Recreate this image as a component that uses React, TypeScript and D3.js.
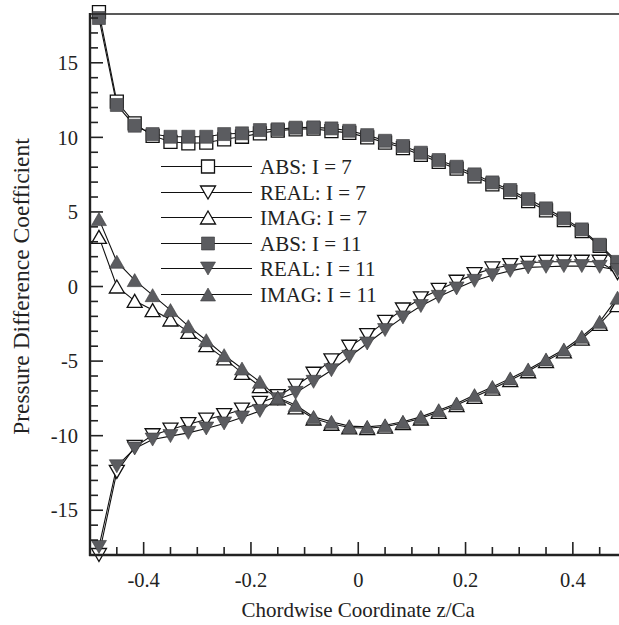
import * as d3 from 'd3';

// chordwise stations (panel midpoints)
const zCoord = [-0.4833, -0.45, -0.4167, -0.3833, -0.35, -0.3167, -0.2833, -0.25, -0.2167, -0.1833,
    -0.15, -0.1167, -0.0833, -0.05, -0.0167, 0.0167, 0.05, 0.0833, 0.1167, 0.15,
    0.1833, 0.2167, 0.25, 0.2833, 0.3167, 0.35, 0.3833, 0.4167, 0.45, 0.4833];

const absI7 = [18.4, 12.4, 10.94, 10.1, 9.7, 9.6, 9.64, 9.87, 10.04, 10.27,
    10.45, 10.54, 10.58, 10.42, 10.3, 10.0, 9.65, 9.28, 8.82, 8.35,
    7.9, 7.38, 6.85, 6.33, 5.72, 5.1, 4.45, 3.72, 2.72, 1.5];
const realI7 = [-18.0, -12.43, -10.75, -9.97, -9.59, -9.23, -8.92, -8.62, -8.25, -7.8,
    -7.35, -6.65, -5.85, -4.95, -4.04, -3.26, -2.37, -1.54, -0.8, -0.22,
    0.32, 0.83, 1.21, 1.44, 1.59, 1.66, 1.66, 1.66, 1.66, 0.9];
const imagI7 = [3.33, 0.0, -0.96, -1.58, -2.21, -3.04, -3.93, -4.82, -5.79, -6.68,
    -7.5, -8.1, -8.85, -9.2, -9.45, -9.5, -9.4, -9.15, -8.85, -8.4,
    -7.95, -7.4, -6.85, -6.28, -5.68, -5.0, -4.35, -3.5, -2.5, -1.25];
const absI11 = [18.0, 12.17, 10.78, 10.22, 10.04, 10.04, 10.04, 10.22, 10.27, 10.49,
    10.54, 10.65, 10.67, 10.6, 10.44, 10.15, 9.77, 9.42, 8.97, 8.48,
    8.03, 7.52, 6.98, 6.47, 5.86, 5.24, 4.57, 3.83, 2.8, 1.65];
const realI11 = [-17.46, -12.05, -10.86, -10.26, -10.03, -9.81, -9.52, -9.18, -8.78, -8.34,
    -7.55, -7.13, -6.39, -5.61, -4.71, -3.82, -2.92, -2.07, -1.31, -0.69,
    -0.13, 0.38, 0.76, 1.05, 1.28, 1.32, 1.37, 1.37, 1.32, 1.1];
const imagI11 = [4.52, 1.66, 0.43, -0.58, -1.58, -2.66, -3.6, -4.6, -5.5, -6.39,
    -7.45, -7.95, -8.74, -9.07, -9.36, -9.41, -9.3, -9.07, -8.74, -8.29,
    -7.84, -7.28, -6.73, -6.16, -5.56, -4.89, -4.22, -3.37, -2.37, -0.75];

const seriesLabels = ['ABS: I = 7', 'REAL: I = 7', 'IMAG: I = 7', 'ABS: I = 11', 'REAL: I = 11', 'IMAG: I = 11'];
const xTickLabels = ['-0.4', '-0.2', '0', '0.2', '0.4'];
const yTickLabels = ['-15', '-10', '-5', '0', '5', '10', '15'];

const W = 619, H = 625;
const GRAY = '#5b5c60';
const FONT = '"Liberation Serif", "Times New Roman", serif';

type Shape = 'square' | 'down' | 'up';
const series: { label: string; y: number[]; shape: Shape; filled: boolean }[] = [
    { label: seriesLabels[0], y: absI7, shape: 'square', filled: false },
    { label: seriesLabels[1], y: realI7, shape: 'down', filled: false },
    { label: seriesLabels[2], y: imagI7, shape: 'up', filled: false },
    { label: seriesLabels[3], y: absI11, shape: 'square', filled: true },
    { label: seriesLabels[4], y: realI11, shape: 'down', filled: true },
    { label: seriesLabels[5], y: imagI11, shape: 'up', filled: true },
];

function markerPath(shape: Shape, cx: number, cy: number) {
    const s = 6.5, tw = 7.5, th = 6.5;
    if (shape === 'square') return `M${cx - s},${cy - s}h${2 * s}v${2 * s}h${-2 * s}Z`;
    if (shape === 'up') return `M${cx},${cy - th}L${cx + tw},${cy + th}L${cx - tw},${cy + th}Z`;
    return `M${cx - tw},${cy - th}L${cx + tw},${cy - th}L${cx},${cy + th}Z`;
}

function Marker({ shape, filled, cx, cy }: { shape: Shape; filled: boolean; cx: number; cy: number }) {
    return (
        <path d={markerPath(shape, cx, cy)}
            fill={filled ? GRAY : '#fff'}
            stroke={filled ? '#3a3a3c' : '#111'}
            strokeWidth={filled ? 0.6 : 1.3} />
    );
}

export default function App() {
    const x = d3.scaleLinear().domain([-0.5, 0.5]).range([90, 626.5]);
    const y = d3.scaleLinear().domain([-18, 18.27]).range([555, 14]);

    const line = d3.line<number>().x((_, i) => x(zCoord[i])).y(d => y(d));

    const xMajor = xTickLabels.map(Number);
    const xMinor = d3.range(-0.45, 0.5, 0.05).map(v => +v.toFixed(2));
    const yMajor = yTickLabels.map(Number);
    const yMinor = d3.range(-18, 19, 1);

    const legendX0 = 161, legendX1 = 252, legendMx = 208, legendTx = 260;
    const legendY0 = 166.5, legendDy = 25.6;

    return (
        <svg width={W} height={H} style={{ position: 'absolute', left: 0, top: 0, background: '#fff' }}
            fontFamily={FONT}>
            {/* series lines */}
            {series.map(s => (
                <path key={'l' + s.label} d={line(s.y) ?? ''} fill="none" stroke="#111" strokeWidth={1.1} />
            ))}
            {/* markers: open first, filled on top */}
            {series.map(s => (
                <g key={'m' + s.label}>
                    {s.y.map((v, i) => (
                        <Marker key={i} shape={s.shape} filled={s.filled} cx={x(zCoord[i])} cy={y(v)} />
                    ))}
                </g>
            ))}

            {/* frame */}
            <line x1={90} x2={W} y1={14} y2={14} stroke="#222" strokeWidth={1.6} />
            <line x1={90} x2={90} y1={13} y2={556} stroke="#222" strokeWidth={2.4} />
            <line x1={89} x2={W} y1={555} y2={555} stroke="#222" strokeWidth={2.4} />

            {/* y ticks */}
            {yMinor.map(v => (
                <line key={'ym' + v} x1={90} x2={yMajor.includes(v) ? 103 : 98} y1={y(v)} y2={y(v)}
                    stroke="#222" strokeWidth={1.6} />
            ))}
            {yTickLabels.map(t => (
                <text key={'yl' + t} x={78} y={y(+t)} dy="0.35em" textAnchor="end" fontSize={20.5} fill="#222">{t}</text>
            ))}

            {/* x ticks */}
            {xMinor.map(v => (
                <line key={'xm' + v} x1={x(v)} x2={x(v)} y1={555}
                    y2={xMajor.some(m => Math.abs(m - v) < 1e-6) ? 542 : 547}
                    stroke="#222" strokeWidth={1.6} />
            ))}
            {xTickLabels.map(t => (
                <text key={'xl' + t} x={x(+t)} y={587} textAnchor="middle" fontSize={20.5} fill="#222">{t}</text>
            ))}

            {/* axis titles */}
            <text x={x(0)} y={617} textAnchor="middle" fontSize={21} fill="#222">Chordwise Coordinate z/Ca</text>
            <text transform={`translate(29,${y(0)}) rotate(-90)`} textAnchor="middle" fontSize={23.5} fill="#222">
                Pressure Difference Coefficient
            </text>

            {/* legend */}
            {series.map((s, i) => {
                const ly = Math.round(legendY0 + i * legendDy - 0.5) + 0.5;
                return (
                    <g key={'lg' + s.label}>
                        <line x1={legendX0} x2={legendX1} y1={ly} y2={ly} stroke="#111" strokeWidth={1} />
                        <Marker shape={s.shape} filled={s.filled} cx={legendMx} cy={ly} />
                        <text x={legendTx} y={ly} dy="0.35em" fontSize={21} fill="#222">{s.label}</text>
                    </g>
                );
            })}
        </svg>
    );
}
